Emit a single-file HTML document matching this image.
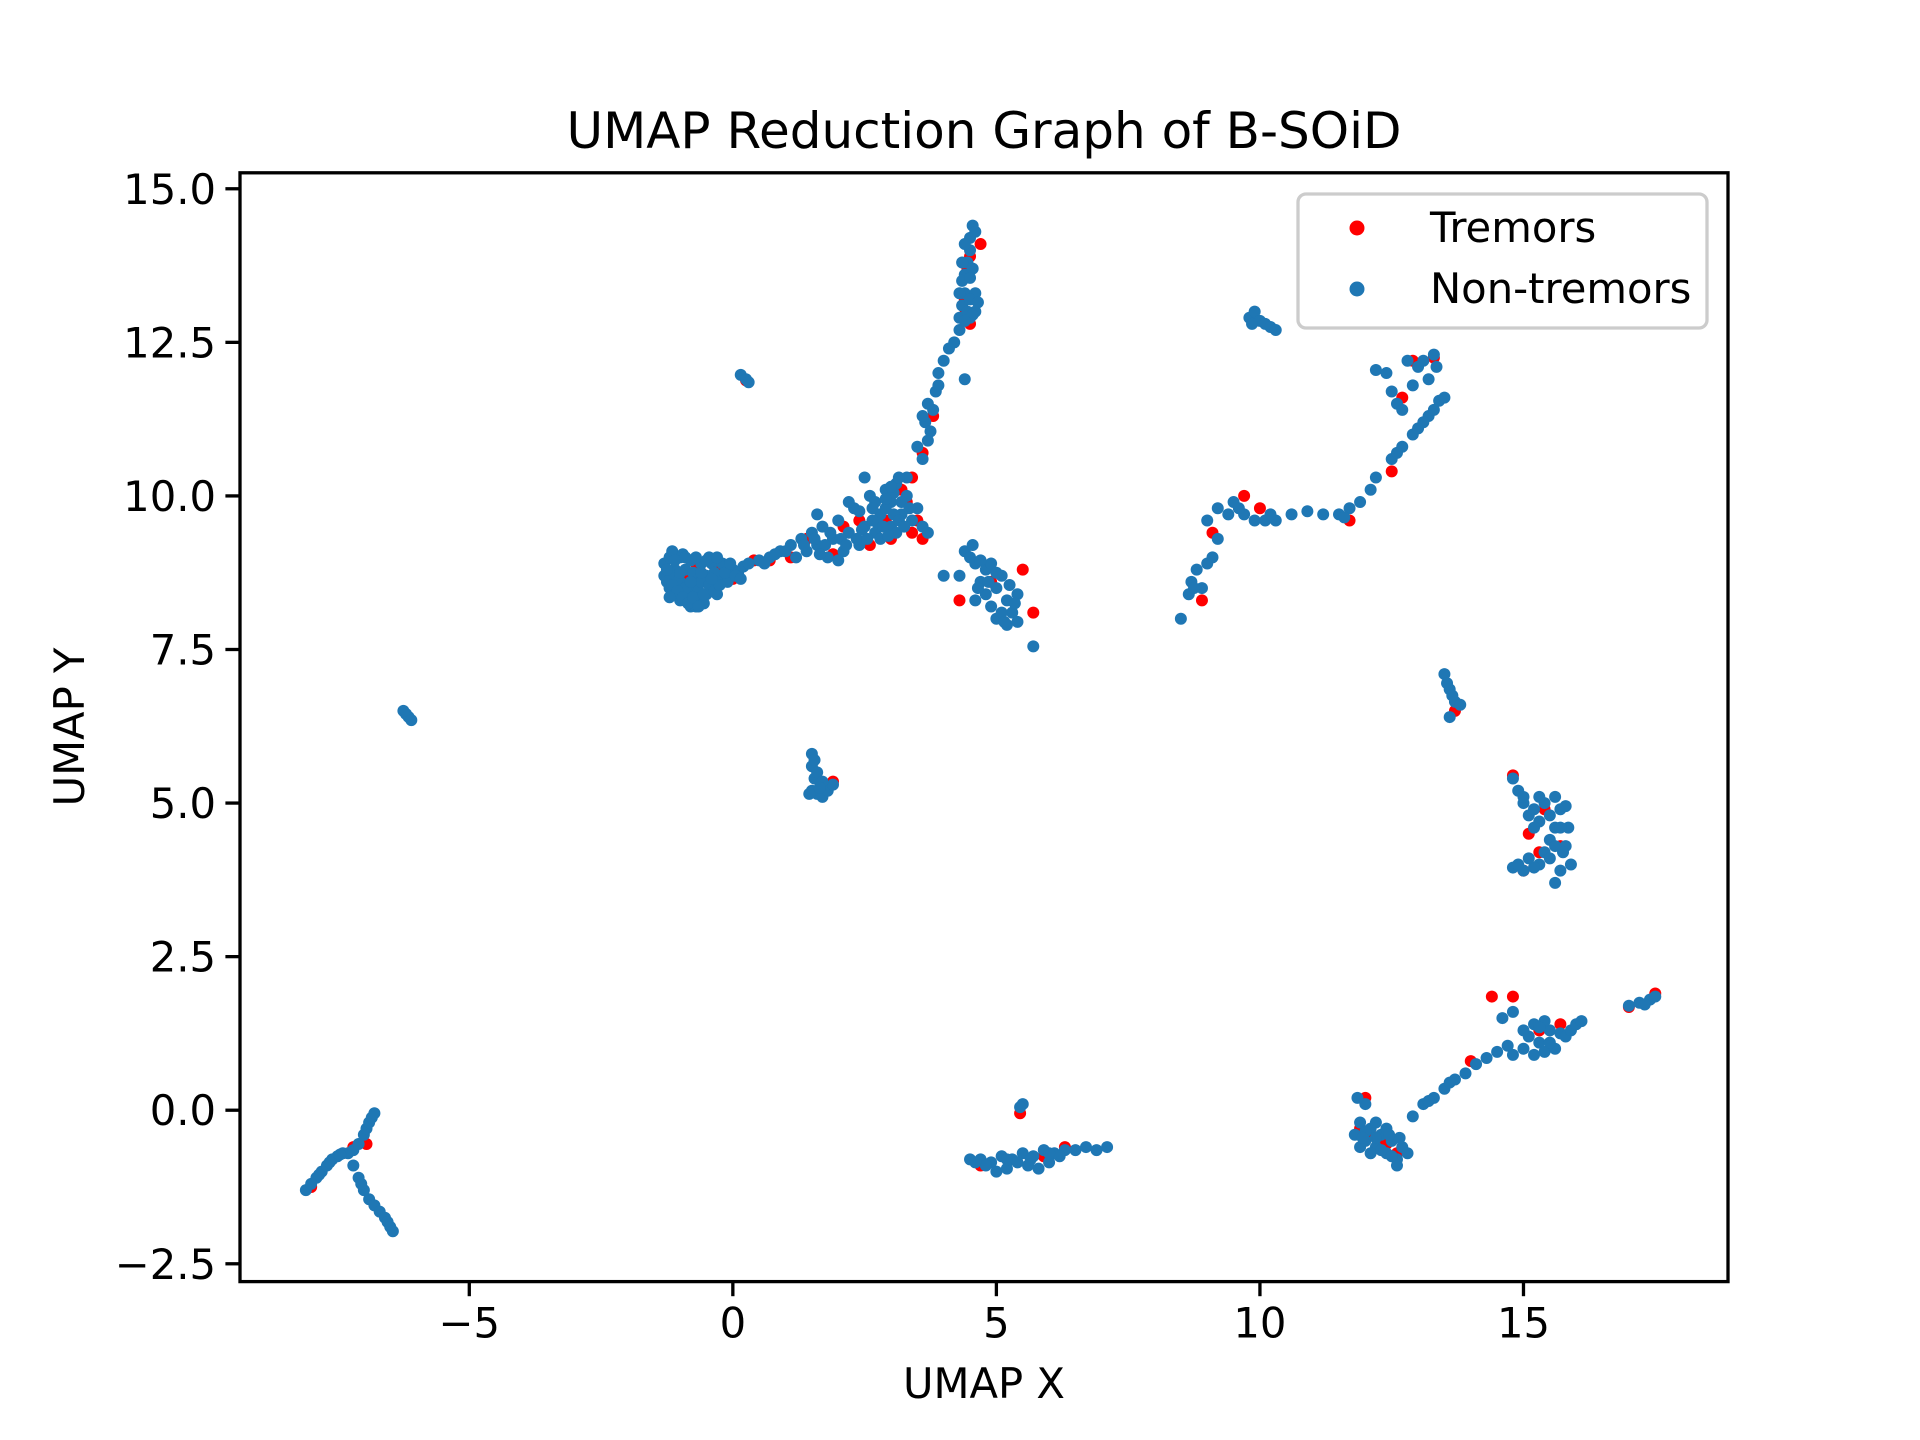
<!DOCTYPE html>
<html><head><meta charset="utf-8"><style>
html,body{margin:0;padding:0;background:#fff;}
svg{display:block;font-family:"DejaVu Sans","Liberation Sans",sans-serif;}
</style></head><body>
<svg id="chart" width="1920" height="1440" viewBox="0 0 1920 1440">
<rect width="1920" height="1440" fill="#fff"/>
<text x="984" y="148" font-size="50" text-anchor="middle">UMAP Reduction Graph of B-SOiD</text>
<g id="marks"></g>
<g id="axes"></g>
<rect x="240" y="172.8" width="1488" height="1108.8" fill="none" stroke="#000" stroke-width="3.3"/>
<text x="984" y="1398" font-size="41.7" text-anchor="middle">UMAP X</text>
<text transform="translate(84,727) rotate(-90)" font-size="41.7" text-anchor="middle">UMAP Y</text>
<g>
<rect x="1298" y="194" width="409" height="134" rx="8" fill="#fff" fill-opacity="0.8" stroke="#ccc" stroke-width="3.3"/>
<circle cx="1357" cy="228" r="7.5" fill="#ff0000"/>
<text x="1430" y="242" font-size="41.7">Tremors</text>
<circle cx="1357" cy="289" r="7.5" fill="#1f77b4"/>
<text x="1430" y="303" font-size="41.7">Non-tremors</text>
</g>
</svg>
<script>
const xTicks = [-5, 0, 5, 10, 15];
const xTickLabels = ["\u22125", "0", "5", "10", "15"];
const yTicks = [-2.5, 0, 2.5, 5, 7.5, 10, 12.5, 15];
const yTickLabels = ["\u22122.5", "0.0", "2.5", "5.0", "7.5", "10.0", "12.5", "15.0"];
const tremorPoints = [[-8.0,-1.25],[-7.2,-0.6],[-6.95,-0.55],[-0.9,8.6],[-0.5,8.6],[-0.3,8.8],[-0.7,8.9],[0.4,8.95],[0.7,8.95],[1.1,9.0],[1.4,9.3],[2.1,9.5],[2.6,9.2],[3.0,9.3],[3.3,9.9],[3.5,9.6],[3.6,9.3],[3.4,10.3],[3.6,10.7],[3.8,11.3],[4.4,13.2],[4.5,13.9],[4.7,14.1],[4.5,12.8],[0.25,11.88],[5.5,8.8],[5.7,8.1],[4.9,8.6],[4.3,8.3],[1.9,5.35],[5.45,-0.05],[6.3,-0.6],[4.7,-0.9],[9.1,9.4],[9.7,10.0],[10.0,9.8],[8.9,8.3],[11.7,9.6],[12.5,10.4],[12.9,12.2],[13.3,12.25],[12.7,11.6],[13.7,6.5],[14.8,5.45],[15.7,4.3],[15.4,4.9],[15.1,4.5],[12.0,0.2],[12.3,-0.5],[12.6,-0.7],[11.9,-0.3],[14.0,0.8],[14.4,1.85],[14.8,1.85],[15.3,1.3],[15.7,1.4],[17.0,1.68],[17.5,1.9],[5.9,-0.75],[-0.6,8.75],[2.9,9.6],[3.2,10.1],[-0.2,8.75],[-0.8,8.7],[0.0,8.65],[1.9,9.05],[2.4,9.6],[3.4,9.4],[4.45,13.7],[4.4,12.95],[15.3,4.2],[15.0,3.9],[12.4,-0.55],[12.1,-0.4]];
const nonTremorPoints = [[-8.1,-1.3],[-8.0,-1.2],[-7.9,-1.1],[-7.8,-1.0],[-7.7,-0.9],[-7.6,-0.8],[-7.5,-0.75],[-7.4,-0.7],[-7.3,-0.7],[-7.2,-0.65],[-7.1,-0.55],[-7.0,-0.4],[-6.95,-0.3],[-6.9,-0.2],[-6.85,-0.12],[-6.8,-0.05],[-7.85,-1.05],[-7.65,-0.85],[-7.45,-0.72],
[-7.2,-0.9],[-7.1,-1.1],[-7.0,-1.3],[-6.9,-1.45],[-6.8,-1.55],[-6.7,-1.65],[-6.6,-1.75],[-6.55,-1.82],[-6.5,-1.9],[-6.45,-1.97],[-7.05,-1.2],
[-6.2,6.45],[-6.15,6.4],[-6.25,6.5],[-6.1,6.35],
[-1.3,8.7],[-1.3,8.9],[-1.2,8.5],[-1.2,9.0],[-1.1,8.4],[-1.1,8.8],[-1.0,8.3],[-1.0,8.6],[-1.0,9.0],[-0.9,8.3],[-0.9,8.8],[-0.8,8.2],[-0.8,8.5],[-0.8,8.95],[-0.7,8.2],[-0.7,8.6],[-0.6,8.3],[-0.6,8.9],[-0.5,8.4],[-0.5,8.7],[-0.4,8.5],[-0.4,8.9],[-0.3,8.6],[-0.2,8.7],[-0.2,8.9],[-0.1,8.6],[0.0,8.8],[0.1,8.75],[0.2,8.85],[-1.25,8.6],[-1.15,9.1],[-0.95,9.05],[-0.65,8.45],[-0.55,8.25],[-0.35,8.75],[-0.75,8.75],[-1.05,8.65],[-0.85,8.4],[-0.45,9.0],[-1.2,8.75],[-0.9,8.5],[-0.6,8.6],[-0.3,8.4],
[-1.25,8.8],[-1.15,8.55],[-1.05,8.45],[-0.95,8.35],[-0.85,8.25],[-0.75,8.35],[-0.65,8.2],[-0.55,8.4],[-0.45,8.55],[-0.35,8.45],[-0.25,8.55],[-0.15,8.75],[-0.05,8.9],[0.05,8.7],[-1.1,8.95],[-0.9,9.0],[-0.7,9.0],[-0.5,8.95],[-0.3,9.0],[-1.0,8.75],[-0.8,8.6],[-0.6,8.75],[-0.4,8.65],[-1.2,8.35],[0.15,8.65],
[0.3,8.9],[0.5,8.95],[0.7,9.0],[0.9,9.1],[1.1,9.2],[1.3,9.3],[1.4,9.1],[1.5,9.4],[1.6,9.2],[1.7,9.5],[1.8,9.0],[1.9,9.3],[2.0,9.6],[2.1,9.1],[2.2,9.4],[2.3,9.8],[2.4,9.2],[2.5,9.5],[2.6,10.0],[2.7,9.4],[2.8,9.7],[2.9,10.1],[3.0,9.5],[3.0,9.9],[3.1,10.2],[3.2,9.7],[3.3,10.0],[3.4,9.6],[3.5,9.8],[3.6,9.5],[3.7,9.4],[1.2,9.0],[1.6,9.7],[2.0,8.95],[2.5,10.3],[2.8,9.3],[3.1,9.4],[3.3,10.3],[1.0,9.1],[2.2,9.9],[2.9,9.8],[3.05,10.05],[2.7,9.9],[3.2,9.9],
[1.35,9.2],[1.55,9.3],[1.75,9.2],[1.85,9.4],[2.05,9.3],[2.15,9.2],[2.35,9.3],[2.45,9.45],[2.55,9.3],[2.65,9.6],[2.75,9.55],[2.85,9.5],[2.95,9.35],[3.05,9.7],[3.15,9.6],[3.25,9.5],[3.35,9.8],[2.9,9.95],[3.0,10.15],[3.15,10.3],[2.65,9.8],[2.4,9.75],[1.65,9.05],[0.6,8.9],[0.8,9.05],
[3.6,10.6],[3.7,10.9],[3.65,11.2],[3.8,11.4],[3.85,11.7],[3.9,12.0],[4.0,12.2],[3.75,11.05],[4.2,12.5],[4.3,12.7],[3.5,10.8],[3.9,11.8],[4.4,11.9],[4.1,12.4],[3.7,11.5],[3.6,11.3],
[4.3,12.9],[4.35,13.1],[4.4,13.3],[4.4,13.6],[4.45,13.8],[4.5,14.0],[4.5,14.2],[4.55,14.4],[4.6,13.0],[4.6,13.3],[4.5,12.9],[4.35,13.5],[4.55,13.7],[4.5,13.2],[4.65,13.15],[4.4,14.1],[4.3,13.3],[4.45,13.0],[4.55,12.95],[4.35,13.8],[4.5,13.55],[4.6,14.3],[4.4,12.85],
[0.15,11.97],[0.25,11.9],[0.3,11.85],
[4.0,8.7],[4.3,8.7],[4.4,9.1],[4.5,9.0],[4.6,8.9],[4.7,8.6],[4.8,8.8],[4.8,8.4],[4.9,8.2],[5.0,8.5],[5.0,8.0],[5.1,8.7],[5.2,8.3],[5.2,7.9],[5.3,8.1],[5.4,8.4],[5.4,7.95],[4.6,8.3],[4.55,9.2],[5.7,7.55],[4.9,8.9],[5.1,8.1],[4.7,8.95],[4.85,8.6],[5.0,8.75],[5.25,8.55],[5.35,8.25],[5.15,7.95],[4.65,8.5],
[1.5,5.8],[1.5,5.6],[1.55,5.4],[1.5,5.2],[1.6,5.15],[1.7,5.1],[1.8,5.2],[1.9,5.3],[1.6,5.5],[1.7,5.35],[1.45,5.15],[1.55,5.7],[1.65,5.25],
[4.5,-0.8],[4.7,-0.8],[4.9,-0.85],[5.1,-0.75],[5.3,-0.8],[5.5,-0.7],[5.7,-0.75],[5.9,-0.65],[6.1,-0.7],[6.3,-0.65],[6.5,-0.65],[6.7,-0.6],[6.9,-0.65],[7.1,-0.6],[5.0,-1.0],[5.2,-0.95],[5.6,-0.9],[5.8,-0.95],[6.0,-0.85],[4.8,-0.9],[5.5,0.1],[5.45,0.05],[4.6,-0.85],[5.4,-0.85],[5.65,-0.8],[6.2,-0.75],[6.0,-0.7],[5.2,-0.8],
[9.8,12.9],[9.9,13.0],[10.0,12.85],[10.1,12.8],[10.2,12.75],[10.3,12.7],[9.85,12.8],
[8.5,8.0],[8.65,8.4],[8.7,8.6],[8.8,8.8],[8.9,8.5],[9.0,8.9],[9.1,9.0],[9.2,9.3],[9.0,9.6],[9.2,9.8],[9.4,9.7],[9.5,9.9],[9.7,9.7],[9.9,9.6],[10.1,9.6],[10.3,9.6],[10.6,9.7],[10.9,9.75],[11.2,9.7],[11.5,9.7],[11.7,9.8],[11.9,9.9],[12.1,10.1],[12.2,10.3],[12.5,10.6],[12.7,10.8],[12.9,11.0],[13.0,11.1],[13.2,11.3],[13.3,11.4],[13.4,11.55],[13.5,11.6],[12.6,10.7],[13.1,11.2],[8.75,8.5],[9.6,9.8],[10.2,9.7],[11.6,9.65],
[12.2,12.05],[12.4,12.0],[12.5,11.7],[12.6,11.5],[12.8,12.2],[12.9,11.8],[13.0,12.1],[13.1,12.2],[13.2,11.9],[13.3,12.3],[13.35,12.1],[12.7,11.4],
[13.5,7.1],[13.55,6.95],[13.6,6.85],[13.65,6.75],[13.7,6.65],[13.8,6.6],[13.6,6.4],
[14.8,5.4],[14.9,5.2],[15.0,5.0],[15.1,4.8],[15.2,4.9],[15.3,4.7],[15.4,5.0],[15.5,4.8],[15.6,4.6],[15.7,4.9],[15.8,4.95],[15.85,4.6],[15.8,4.3],[15.9,4.0],[15.7,3.9],[15.6,3.7],[15.4,4.2],[15.3,4.0],[15.2,3.95],[15.0,3.9],[14.8,3.95],[15.1,4.1],[15.5,4.4],[15.6,5.1],[15.3,5.1],[15.7,4.6],[15.75,4.2],[15.5,4.1],[15.0,5.1],[15.2,4.6],[14.9,4.0],[15.6,4.3],
[11.8,-0.4],[11.9,-0.2],[11.9,-0.6],[12.0,0.1],[12.0,-0.5],[12.1,-0.3],[12.2,-0.6],[12.3,-0.4],[12.4,-0.7],[12.5,-0.5],[12.6,-0.8],[12.7,-0.6],[12.6,-0.9],[12.2,-0.2],[12.4,-0.3],[12.1,-0.7],[12.8,-0.7],[11.85,0.2],[12.0,-0.35],[12.3,-0.65],[12.5,-0.75],[12.65,-0.45],[12.45,-0.4],[12.2,-0.45],[11.95,-0.45],
[12.9,-0.1],[13.1,0.1],[13.3,0.2],[13.5,0.35],[13.7,0.5],[13.9,0.6],[14.1,0.75],[14.3,0.85],[14.5,0.95],[14.7,1.05],[14.6,1.5],[14.8,1.6],[13.2,0.15],[13.6,0.45],
[14.8,0.9],[15.0,1.0],[15.1,1.2],[15.2,1.4],[15.3,1.1],[15.4,0.95],[15.5,1.3],[15.6,1.0],[15.7,1.25],[15.8,1.2],[15.9,1.3],[16.0,1.4],[16.1,1.45],[15.2,0.9],[15.4,1.45],[15.0,1.3],[15.5,1.1],[15.3,1.35],
[17.0,1.7],[17.2,1.75],[17.4,1.8],[17.5,1.85],[17.3,1.72]];

const NS = "http://www.w3.org/2000/svg";
const plot = {left:240, right:1728, top:172.8, bottom:1281.6};
const xDomain = [-9.35, 18.88];
const yDomain = [-2.79, 15.26];
function xScale(v){ return plot.left + (v - xDomain[0]) / (xDomain[1] - xDomain[0]) * (plot.right - plot.left); }
function yScale(v){ return plot.bottom - (v - yDomain[0]) / (yDomain[1] - yDomain[0]) * (plot.bottom - plot.top); }

const marks = document.getElementById('marks');
function drawSeries(points, color, name){
  const g = document.createElementNS(NS, 'g');
  
  
  points.forEach(p => {
    const c = document.createElementNS(NS, 'circle');
    
    
    c.setAttribute('cx', xScale(p[0]));
    c.setAttribute('cy', yScale(p[1]));
    c.setAttribute('r', 6);
    c.setAttribute('fill', color);
    g.appendChild(c);
  });
  marks.appendChild(g);
}
drawSeries(tremorPoints, '#ff0000', 'tremors-series');
drawSeries(nonTremorPoints, '#1f77b4', 'non-tremors-series');

const axes = document.getElementById('axes');
xTicks.forEach((t, i) => {
  const x = xScale(t);
  const l = document.createElementNS(NS, 'line');
  
  
  l.setAttribute('x1', x); l.setAttribute('x2', x);
  l.setAttribute('y1', plot.bottom); l.setAttribute('y2', plot.bottom + 14.6);
  l.setAttribute('stroke', '#000'); l.setAttribute('stroke-width', 3.3);
  axes.appendChild(l);
  const tx = document.createElementNS(NS, 'text');
  
  
  tx.setAttribute('x', x); tx.setAttribute('y', plot.bottom + 56);
  tx.setAttribute('font-size', 41.7); tx.setAttribute('text-anchor', 'middle');
  tx.textContent = xTickLabels[i];
  axes.appendChild(tx);
});
yTicks.forEach((t, i) => {
  const y = yScale(t);
  const l = document.createElementNS(NS, 'line');
  
  
  l.setAttribute('x1', plot.left - 14.6); l.setAttribute('x2', plot.left);
  l.setAttribute('y1', y); l.setAttribute('y2', y);
  l.setAttribute('stroke', '#000'); l.setAttribute('stroke-width', 3.3);
  axes.appendChild(l);
  const tx = document.createElementNS(NS, 'text');
  
  
  tx.setAttribute('x', plot.left - 24); tx.setAttribute('y', y + 15);
  tx.setAttribute('font-size', 41.7); tx.setAttribute('text-anchor', 'end');
  tx.textContent = yTickLabels[i];
  axes.appendChild(tx);
});
</script>
</body></html>
